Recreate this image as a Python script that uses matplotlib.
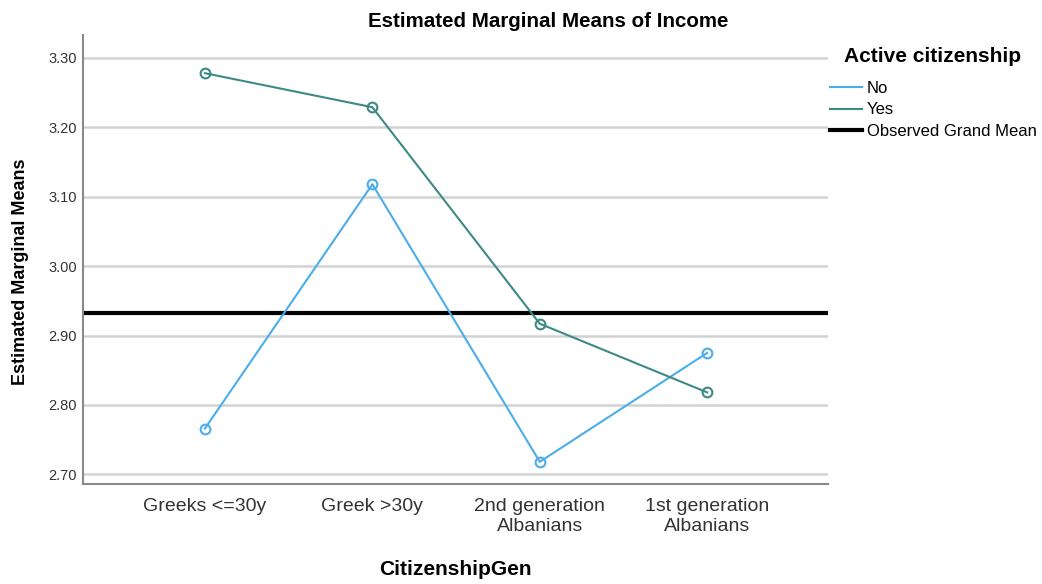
import matplotlib.pyplot as plt
from matplotlib.lines import Line2D

plt.rcParams['font.family'] = ['Liberation Sans', 'DejaVu Sans']

categories = ["Greeks <=30y", "Greek >30y", "2nd generation\nAlbanians", "1st generation\nAlbanians"]
no_vals = [2.766, 3.118, 2.718, 2.875]
yes_vals = [3.278, 3.229, 2.917, 2.818]
grand_mean = 2.933
yticks = [2.70, 2.80, 2.90, 3.00, 3.10, 3.20, 3.30]

c_no = '#4aaeea'
c_yes = '#3d8a84'

fig = plt.figure(figsize=(10.42, 5.84), dpi=100)
ax = fig.add_axes([0.0797, 0.1712, 0.715, 0.7688])

x = list(range(len(categories)))

# light horizontal grid at each tick
for v in yticks:
    ax.axhline(v, color='#d2d2d2', linewidth=1.8, zorder=0)

ax.axhline(grand_mean, color='black', linewidth=3, zorder=2)
ax.plot(x, no_vals, color=c_no, linewidth=1.5, marker='o', markersize=7,
        markerfacecolor='none', markeredgewidth=1.5, zorder=3)
ax.plot(x, yes_vals, color=c_yes, linewidth=1.5, marker='o', markersize=7,
        markerfacecolor='none', markeredgewidth=1.5, zorder=3)

ax.set_xlim(-0.728, 3.722)
ax.set_ylim(2.686, 3.333)
ax.set_xticks(x)
ax.set_xticklabels(categories, fontsize=14, color='#333333', linespacing=1.22)
ax.set_yticks(yticks)
ax.set_yticklabels([f"{v:.2f}" for v in yticks], fontsize=10.5, color='#333333')
ax.tick_params(axis='both', length=0)
ax.tick_params(axis='x', pad=10)
ax.tick_params(axis='y', pad=4.3)

for s in ['top', 'right']:
    ax.spines[s].set_visible(False)
for s in ['left', 'bottom']:
    ax.spines[s].set_color('#8a8a8a')
    ax.spines[s].set_linewidth(1.5)

fig.text(0.526, 0.964, 'Estimated Marginal Means of Income', fontsize=14.8,
         fontweight='bold', ha='center', va='center')
ax.set_ylabel('Estimated Marginal Means', fontsize=13, fontweight='bold')
ax.yaxis.set_label_coords(-0.0726, 0.472)
ax.set_xlabel('CitizenshipGen', fontsize=15, fontweight='bold')
ax.xaxis.set_label_coords(0.5, -0.169)

# legend
fig.text(933 / 1042, 0.9024, 'Active citizenship', fontsize=15,
         fontweight='bold', ha='center', va='center')
handles = [Line2D([], [], color=c_no, linewidth=1.5),
           Line2D([], [], color=c_yes, linewidth=1.5),
           Line2D([], [], color='black', linewidth=3)]
leg = fig.legend(handles, ['No', 'Yes', 'Observed Grand Mean'],
                 loc='upper left', bbox_to_anchor=(830 / 1042, 0.862),
                 frameon=False, fontsize=12, handlelength=1.9,
                 handletextpad=0.3, labelspacing=0.41,
                 borderaxespad=0, borderpad=0)

plt.savefig('out.png', dpi=100)
